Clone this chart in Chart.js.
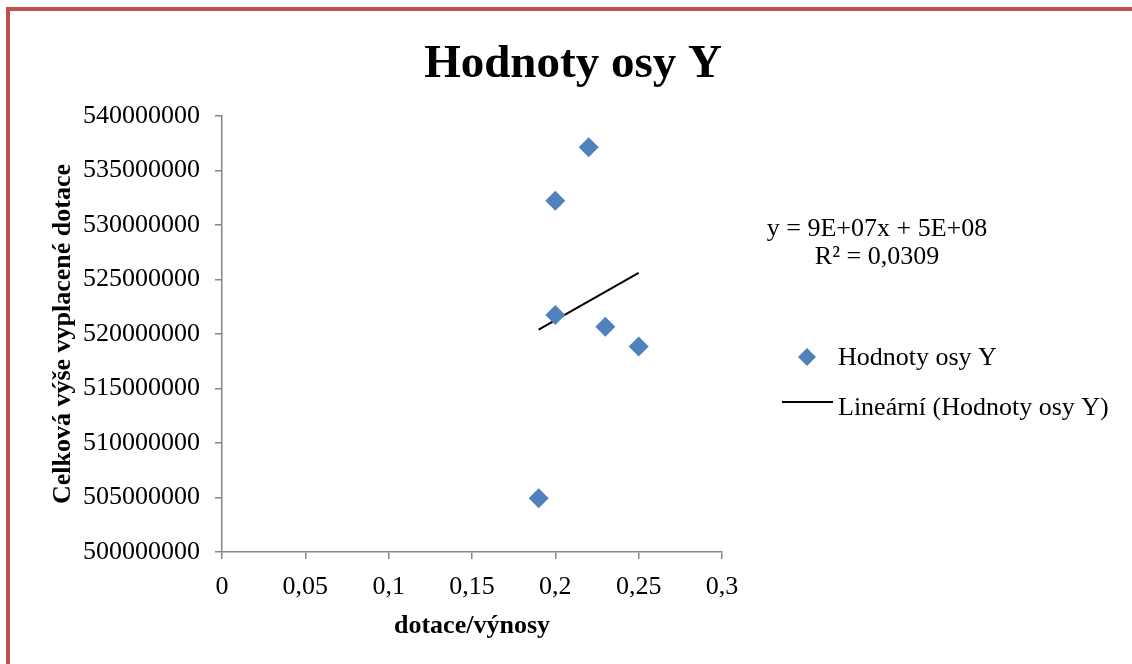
<!DOCTYPE html>
<html>
<head>
<meta charset="utf-8">
<script src="https://cdn.jsdelivr.net/npm/chart.js@4"></script>
<style>
  html, body { margin: 0; padding: 0; background: #fff; }
  #wrap { position: relative; width: 1132px; height: 664px; overflow: hidden; }
  #frame {
    position: absolute; left: 6px; top: 7px; width: 1200px; height: 800px;
    border-top: 4px solid #c0504d; border-left: 4px solid #c0504d;
    pointer-events: none;
  }
  canvas { position: absolute; left: 0; top: 0; }
</style>
</head>
<body>
<div id="wrap">
  <canvas id="chart" width="1132" height="664"></canvas>
  <div id="frame"></div>
</div>
<script>
// ---- data ----
const xValues = [0.22, 0.2, 0.2, 0.23, 0.25, 0.19];
const yValues = [537130000, 532230000, 521750000, 520670000, 518850000, 504930000];

// trendline end points (as drawn)
const trendX = [0.19, 0.25];
const trendY = [520400000, 525600000];

const xTickLabels = ["0", "0,05", "0,1", "0,15", "0,2", "0,25", "0,3"];
const yTickLabels = ["500000000", "505000000", "510000000", "515000000",
  "520000000", "525000000", "530000000", "535000000", "540000000"];

const seriesName = "Hodnoty osy Y";
const trendName = "Lineární (Hodnoty osy Y)";
const equationLines = ["y = 9E+07x + 5E+08", "R² = 0,0309"];

const FONT = "'Liberation Serif', 'Times New Roman', serif";
const BLUE = "#4f81bd";
const AXIS = "#868686";

// -------------------------
// Title, equation and legend (drawn on top)
// -------------------------
const extrasPlugin = {
  id: "extras",
  afterDraw(chart) {
    const ctx = chart.ctx;
    ctx.save();
    ctx.fillStyle = "#000";
    ctx.textBaseline = "alphabetic";

    // title
    ctx.font = "bold 47px " + FONT;
    ctx.textAlign = "center";
    ctx.fillText(seriesName, 573, 77);

    // trendline equation
    ctx.font = "26px " + FONT;
    ctx.fillText(equationLines[0], 877, 236);
    ctx.fillText(equationLines[1], 877, 264);

    // legend
    ctx.textAlign = "left";
    ctx.fillText(seriesName, 838, 365);
    ctx.fillText(trendName, 838, 415);

    ctx.fillStyle = BLUE;
    ctx.beginPath();
    ctx.moveTo(807, 348);
    ctx.lineTo(816, 357);
    ctx.lineTo(807, 366);
    ctx.lineTo(798, 357);
    ctx.closePath();
    ctx.fill();

    ctx.strokeStyle = "#000";
    ctx.lineWidth = 2;
    ctx.beginPath();
    ctx.moveTo(782, 402);
    ctx.lineTo(833, 402);
    ctx.stroke();
    ctx.restore();
  },
};

const bgPlugin = {
  id: "bg",
  beforeDraw(chart) {
    const ctx = chart.ctx;
    ctx.save();
    ctx.fillStyle = "#fff";
    ctx.fillRect(0, 0, chart.width, chart.height);
    ctx.restore();
  },
};

new Chart(document.getElementById("chart").getContext("2d"), {
  type: "scatter",
  data: {
    datasets: [
      {
        label: seriesName,
        data: xValues.map((x, i) => ({ x: x, y: yValues[i] })),
        pointStyle: "rectRot",
        pointRadius: 10,
        pointHoverRadius: 10,
        backgroundColor: BLUE,
        borderColor: BLUE,
        borderWidth: 0,
      },
      {
        label: trendName,
        data: trendX.map((x, i) => ({ x: x, y: trendY[i] })),
        showLine: true,
        pointRadius: 0,
        borderColor: "#000",
        borderWidth: 2,
        fill: false,
      },
    ],
  },
  options: {
    responsive: false,
    animation: false,
    events: [],
    layout: { padding: { top: 116, left: 0, right: 410, bottom: 0 } },
    plugins: {
      legend: { display: false },
      title: { display: false },
      tooltip: { enabled: false },
    },
    scales: {
      x: {
        type: "linear",
        min: 0,
        max: 0.3,
        afterFit: (s) => { s.height = 112; },
        afterBuildTicks: (s) => {
          s.ticks = xTickLabels.map((_, i) => ({ value: i * 0.05 }));
        },
        ticks: {
          color: "#000",
          font: { family: FONT, size: 26 },
          padding: 13,
          maxRotation: 0,
          callback: (v, i) => xTickLabels[i],
        },
        grid: {
          drawOnChartArea: false,
          tickLength: 7,
          color: AXIS,
          lineWidth: 1.5,
        },
        border: { display: true, color: AXIS, width: 1.5 },
        title: {
          display: true,
          text: "dotace/výnosy",
          color: "#000",
          font: { family: FONT, size: 26, weight: "bold", lineHeight: 1.2 },
          padding: { top: 0, bottom: 22 },
        },
      },
      y: {
        type: "linear",
        min: 500000000,
        max: 540000000,
        afterFit: (s) => { s.width = 222; },
        afterBuildTicks: (s) => {
          s.ticks = yTickLabels.map((t) => ({ value: Number(t) }));
        },
        ticks: {
          color: "#000",
          font: { family: FONT, size: 26 },
          padding: 15,
          callback: (v, i) => yTickLabels[i],
        },
        grid: {
          drawOnChartArea: false,
          tickLength: 7,
          color: AXIS,
          lineWidth: 1.5,
        },
        border: { display: true, color: AXIS, width: 1.5 },
        title: {
          display: true,
          text: "Celková výše vyplacené dotace",
          color: "#000",
          font: { family: FONT, size: 26, weight: "bold", lineHeight: 1.2 },
          padding: { top: 48, bottom: 0 },
        },
      },
    },
  },
  plugins: [bgPlugin, extrasPlugin],
});
</script>
</body>
</html>
